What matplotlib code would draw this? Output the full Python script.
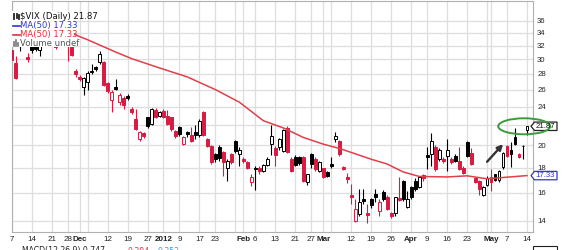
import numpy as np
import pandas as pd
import matplotlib
matplotlib.use("Agg")
import matplotlib.pyplot as plt
from matplotlib.patches import Rectangle, Ellipse, Polygon
from matplotlib.transforms import IdentityTransform
from matplotlib.ticker import FixedLocator, NullLocator, FixedFormatter

# ---------------- data ----------------
start_date = "2011-11-07"
end_date = "2012-05-14"
market_holidays = ["2011-11-24", "2011-12-26", "2012-01-02", "2012-01-16", "2012-02-20", "2012-04-06"]
prior_close = 30.5

opens = [31.4, 29.5, 32.0, 35.0, 30.3, 32.5, 32.7, 31.4, 32.5, 34.0,
         33.5, 33.8, 32.5, 35.0, 33.0, 32.0, 28.4, 27.6, 26.3, 26.9,
         28.45, 28.9, 29.6, 29.6, 26.8, 24.8, 26.3, 24.5, 25.0, 25.2,
         23.7, 22.6, 20.6, 21.2, 22.8, 22.1, 23.65, 22.95, 23.5, 23.0,
         22.8, 21.35, 21.75, 20.1, 21.3, 21.0, 21.3, 20.95, 23.35, 20.55,
         19.9, 19.15, 19.85, 19.4, 18.0, 19.15, 20.4, 19.15, 18.75, 18.45,
         16.85, 18.0, 17.95, 17.7, 18.2, 20.1, 19.75, 19.8, 19.5, 21.7,
         18.75, 18.95, 18.9, 18.9, 16.85, 19.15, 18.75, 17.7, 17.95, 17.6,
         18.3, 20.6, 20.4, 18.05, 17.2, 15.8, 14.0, 14.45, 15.5, 14.5,
         15.5, 15.9, 14.65, 16.05, 15.7, 14.5, 14.5, 15.6, 16.9, 14.95,
         16.4, 16.9, 16.45, 17.35, 19.1, 19.15, 19.85, 18.75, 18.75, 19.0,
         18.75, 19.05, 18.55, 18.0, 20.3, 19.3, 17.1, 16.9, 15.85, 16.6,
         17.25, 17.45, 16.95, 18.05, 19.9, 19.6, 20.75, 19.2, 19.97, 21.5]
highs = [32.0, 30.5, 36.7, 35.5, 30.9, 32.8, 33.0, 32.5, 35.0, 34.6,
         35.0, 34.5, 35.8, 36.2, 33.6, 32.3, 28.6, 27.8, 27.6, 28.4,
         29.4, 29.1, 31.2, 29.8, 27.0, 25.9, 27.4, 25.6, 25.2, 25.5,
         23.9, 23.7, 21.4, 21.3, 22.9, 23.8, 23.8, 23.5, 23.7, 23.6,
         22.9, 21.5, 21.9, 20.9, 21.4, 21.75, 22.0, 22.6, 23.5, 20.7,
         20.0, 19.3, 20.0, 19.5, 18.7, 19.3, 20.5, 19.8, 18.9, 18.6,
         17.5, 18.1, 18.1, 18.3, 18.9, 22.0, 19.9, 20.7, 21.6, 21.9,
         18.9, 19.1, 19.0, 19.0, 17.5, 19.3, 18.9, 18.6, 18.0, 17.7,
         18.95, 21.3, 20.5, 18.15, 17.55, 16.65, 15.5, 16.3, 16.3, 15.15,
         15.6, 16.3, 15.5, 16.2, 15.8, 14.6, 15.7, 17.2, 17.0, 16.1,
         16.5, 17.1, 17.3, 17.5, 19.8, 21.2, 20.0, 19.7, 18.9, 20.55,
         18.9, 19.2, 19.8, 18.1, 20.4, 19.7, 17.2, 17.0, 16.5, 17.3,
         17.9, 17.5, 17.8, 19.4, 20.0, 20.3, 21.7, 19.3, 20.0, 21.95]
lows = [29.5, 27.4, 31.2, 32.4, 29.6, 30.9, 31.2, 30.4, 32.3, 32.3,
        32.4, 31.5, 32.3, 33.5, 29.8, 30.4, 27.6, 27.1, 25.4, 26.0,
        28.0, 28.4, 29.4, 26.4, 25.6, 23.4, 26.0, 24.2, 23.7, 24.7,
        23.2, 21.5, 20.4, 20.7, 21.7, 22.0, 22.7, 22.8, 22.7, 22.0,
        21.4, 20.7, 20.9, 20.0, 20.8, 20.3, 20.6, 20.8, 20.9, 19.8,
        18.3, 18.5, 18.6, 17.3, 16.9, 18.3, 19.3, 18.1, 18.4, 17.9,
        16.5, 16.2, 17.5, 17.6, 18.1, 19.1, 18.15, 19.6, 19.4, 19.3,
        17.6, 18.1, 18.2, 16.8, 16.6, 18.0, 17.7, 17.6, 17.1, 17.2,
        18.0, 20.3, 19.0, 17.8, 16.7, 15.15, 13.95, 14.3, 15.15, 13.85,
        14.9, 15.3, 14.35, 15.4, 14.7, 14.2, 14.35, 15.4, 15.4, 14.85,
        15.5, 16.1, 16.35, 16.9, 17.9, 18.1, 17.7, 18.6, 18.4, 17.7,
        18.3, 18.5, 17.8, 17.45, 18.9, 18.2, 16.75, 15.8, 15.75, 16.5,
        16.15, 16.9, 16.85, 17.9, 18.9, 18.05, 20.0, 18.8, 18.7, 21.0]
closes = [29.9, 27.5, 36.2, 32.8, 30.0, 31.3, 31.5, 31.9, 34.5, 32.6,
          34.0, 31.8, 35.4, 34.5, 32.2, 30.6, 28.0, 27.3, 27.5, 28.1,
          28.2, 28.7, 30.8, 26.6, 25.8, 25.65, 26.1, 25.4, 24.2, 25.0,
          23.4, 21.6, 21.3, 20.85, 21.85, 23.7, 22.8, 23.4, 22.9, 22.1,
          21.55, 20.9, 21.05, 20.75, 21.1, 20.45, 20.95, 22.4, 21.0, 19.95,
          18.5, 18.7, 18.8, 18.5, 18.6, 18.5, 19.45, 19.6, 18.55, 18.0,
          17.25, 17.85, 17.7, 18.2, 18.75, 20.85, 19.1, 20.55, 21.5, 19.4,
          17.75, 18.25, 18.35, 16.9, 17.45, 18.3, 17.85, 18.45, 17.25, 17.3,
          18.1, 20.9, 19.15, 17.9, 17.05, 15.7, 14.8, 15.3, 15.35, 14.4,
          15.05, 15.65, 15.3, 15.5, 14.8, 14.3, 15.65, 15.45, 15.5, 15.55,
          15.65, 16.3, 17.2, 17.15, 18.9, 20.45, 17.85, 19.6, 18.55, 19.6,
          18.45, 18.6, 17.9, 17.55, 19.05, 18.3, 16.85, 16.3, 16.4, 17.15,
          16.85, 16.95, 17.7, 19.3, 19.0, 19.15, 20.1, 18.9, 19.89, 21.87]

ma_dates = ["2011-11-25", "2011-11-29", "2011-12-05", "2011-12-14", "2011-12-20",
            "2011-12-30", "2012-01-11", "2012-01-17", "2012-01-23", "2012-01-31",
            "2012-02-08", "2012-02-15", "2012-02-23", "2012-03-01", "2012-03-07",
            "2012-03-12", "2012-03-19", "2012-03-23", "2012-03-29", "2012-04-04",
            "2012-04-16", "2012-04-23", "2012-04-30", "2012-05-03", "2012-05-14"]
ma_values = [34.4, 33.9, 32.9, 31.05, 30.1, 28.8, 27.6, 26.9, 26.0, 24.5,
             22.45, 21.7, 20.75, 20.1, 19.7, 19.33, 18.72, 18.3, 17.63, 17.26,
             17.22, 17.31, 17.07, 17.15, 17.33]

tick_dates = ["2011-11-07", "2011-11-14", "2011-11-21", "2011-11-28", "2011-12-01",
              "2011-12-12", "2011-12-19", "2011-12-27", "2012-01-03", "2012-01-09",
              "2012-01-17", "2012-01-23", "2012-02-01", "2012-02-06", "2012-02-13",
              "2012-02-21", "2012-02-27", "2012-03-01", "2012-03-12", "2012-03-19",
              "2012-03-26", "2012-04-02", "2012-04-09", "2012-04-16", "2012-04-23",
              "2012-05-01", "2012-05-07", "2012-05-14"]
tick_labels = ["7", "14", "21", "28", "Dec", "12", "19", "27", "2012", "9", "17", "23",
               "Feb", "6", "13", "21", "27", "Mar", "12", "19", "26", "Apr", "9", "16",
               "23", "May", "7", "14"]
bold_labels = ["Dec", "2012", "Feb", "Mar", "Apr", "May"]
y_grid = [14, 16, 18, 20, 22, 24, 26, 28, 30, 32, 34, 36]
y_labeled = [14, 16, 18, 20, 24, 26, 28, 30, 32, 34, 36]   # 22 sits under the price tag

legend_title = "$VIX (Daily) 21.87"
ma_label = "MA(50) 17.33"
volume_label = "Volume undef"
last_label = "21.87"
ma_last_label = "17.33"
macd_texts = ["MACD(12,26,9) 0.747", "0.394", "0.353"]

# ---------------- styles ----------------
RED = "#d81b42"
BLACK = "#000000"
GRID = "#dedede"
W, H = 570, 250

dates = pd.bdate_range(start_date, end_date)
dates = dates[~dates.isin(pd.to_datetime(market_holidays))]
pos = {d: i for i, d in enumerate(dates)}
n = len(dates)

fig = plt.figure(figsize=(W / 100, H / 100), dpi=100)
ax = fig.add_axes([11.5 / W, 1 - 232 / H, (533 - 11.5) / W, (232 - 1) / H])
ax.set_yscale("log")
ax.set_xlim(-0.05, n + 0.5)
ax.set_ylim(13.28, 39.5)
ax.autoscale(False)

# gridlines: week starts and month starts
grid_pos = [0]
for i in range(1, n):
    if dates[i].isocalendar()[1] != dates[i - 1].isocalendar()[1] or dates[i].month != dates[i - 1].month:
        grid_pos.append(i)
for gp in grid_pos:
    ax.axvline(gp, color=GRID, lw=0.9, zorder=0)
for yt in y_grid:
    ax.axhline(yt, color=GRID, lw=0.9, zorder=0)

# candles
bw = 0.72
prev = prior_close
for i in range(n):
    o, h, l, c = opens[i], highs[i], lows[i], closes[i]
    col = RED if c < prev else BLACK
    prev = c
    ax.vlines(i, l, h, color=col, lw=0.8, zorder=2)
    lo, hi = min(o, c), max(o, c)
    face = col if c < o else "white"
    ax.add_patch(Rectangle((i - bw / 2, lo), bw, hi - lo, facecolor=face,
                           edgecolor=col, lw=0.7, zorder=3))

# moving average
ma_x = [pos[pd.Timestamp(d)] for d in ma_dates]
ax.plot(ma_x, ma_values, color="#e0404a", lw=1.1, zorder=4)

# axes styling
for s in ax.spines.values():
    s.set_color("#b0b0b0")
    s.set_linewidth(0.8)
ax.yaxis.tick_right()
ax.yaxis.set_major_locator(FixedLocator(y_labeled))
ax.yaxis.set_minor_locator(NullLocator())
ax.yaxis.set_major_formatter(FixedFormatter([str(v) for v in y_labeled]))
ax.tick_params(axis="y", length=0, pad=3, labelsize=5.6, labelcolor="#222222")
tick_x = [pos[pd.Timestamp(d)] for d in tick_dates]
ax.set_xticks(tick_x)
ax.set_xticklabels(tick_labels)
ax.tick_params(axis="x", length=0, pad=3, labelsize=5.8, labelcolor="#222222")
for t in ax.get_xticklabels() + ax.get_yticklabels():
    t.set_fontfamily("Liberation Sans")
for t in ax.get_xticklabels():
    if t.get_text() in bold_labels:
        t.set_fontweight("bold")

I = IdentityTransform()

def P(x, y):
    return (x, H - y)

# legend box and entries
fig.add_artist(Rectangle(P(12, 47), 62, 36, transform=I, facecolor="white",
                         edgecolor="none", zorder=5))
lf = dict(family="DejaVu Sans", size=6.1, va="center", ha="left", transform=I, zorder=6)
fig.text(*P(20, 16.7), legend_title, color="#111111", **lf)
fig.text(*P(20, 25.7), ma_label, color="#3535c8", **lf)
fig.text(*P(20, 34.7), ma_label, color="#e0303c", **lf)
fig.text(*P(20, 43.2), volume_label, color="#555555", **lf)
fig.add_artist(plt.Line2D([13, 19.5], [H - 25.7, H - 25.7], color="#3535c8", lw=1.2, transform=I, zorder=6))
fig.add_artist(plt.Line2D([13, 19.5], [H - 34.7, H - 34.7], color="#e0303c", lw=1.2, transform=I, zorder=6))
for bx, by0, by1 in [(14, 14, 19), (16.5, 13.5, 18), (18.5, 15, 18.5)]:
    fig.add_artist(plt.Line2D([bx, bx], [H - by1, H - by0], color="#222222", lw=1.3, transform=I, zorder=6))
for bx, bh in [(14, 4), (16, 6), (18, 3)]:
    fig.add_artist(plt.Line2D([bx, bx], [H - 46, H - 46 + bh], color="#777777", lw=1.2, transform=I, zorder=6))

# price tags on the right
def price_tag(value, text, ec, tc):
    yd = ax.transData.transform((0, value))[1]
    x0, x1, hh = 531, 557, 4.2
    fig.add_artist(Polygon([(x0, yd), (x0 + 3.5, yd + hh), (x1, yd + hh), (x1, yd - hh), (x0 + 3.5, yd - hh)],
                           closed=True, transform=I, facecolor="white", edgecolor=ec, lw=0.9, zorder=6))
    fig.text(x0 + 4.5, yd, text, transform=I, family="Liberation Sans", size=5.6,
             color=tc, va="center", ha="left", zorder=7)

price_tag(closes[-1], last_label, "#222222", "#111111")
price_tag(ma_values[-1], ma_last_label, "#3535c8", "#3535c8")

# annotations: ellipse and arrow
cx, cy = ax.transData.transform((128.3, closes[-1]))
fig.add_artist(Ellipse((cx, cy), 52, 16, transform=I, fill=False, edgecolor="#3c9a3c", lw=1.4, zorder=6))
ax.annotate("", xy=(123, 20.1), xytext=(119, 18.5),
            arrowprops=dict(arrowstyle="-|>", color="#333333", lw=1.7, mutation_scale=8,
                            shrinkA=0, shrinkB=0), zorder=6)

# next panel header (cut off at the bottom edge, as in the source)
mf = dict(family="DejaVu Sans", size=5.6, va="top", ha="left", transform=I)
fig.add_artist(plt.Line2D([13, 20], [H - 250.5, H - 250.5], color="#222222", lw=1.0, transform=I))
fig.text(*P(22, 246.5), macd_texts[0], color="#222222", **mf)
fig.text(*P(127, 246.5), macd_texts[1], color="#e0303c", **mf)
fig.text(*P(158, 246.5), macd_texts[2], color="#3399ee", **mf)
fig.add_artist(Rectangle(P(533, 251), 24, 5, transform=I, facecolor="white", edgecolor="#222222", lw=0.8))

fig.savefig("out.png", dpi=100)
